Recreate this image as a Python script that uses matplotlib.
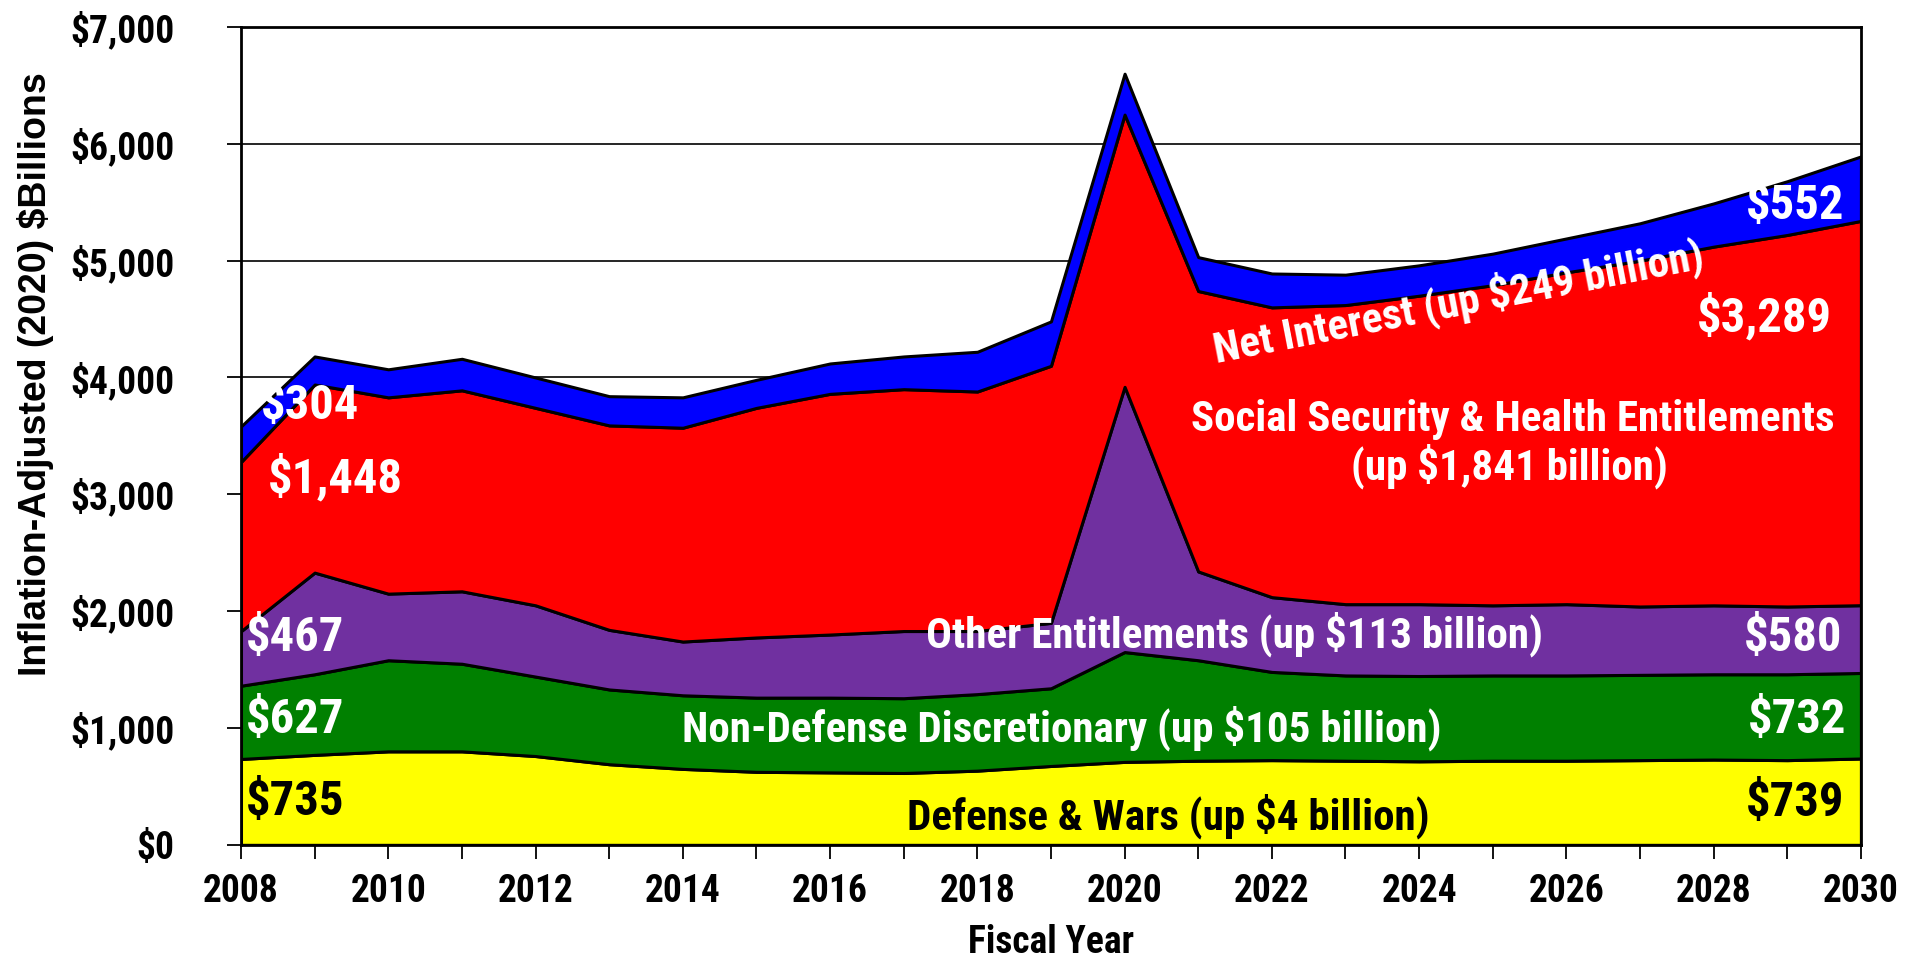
import matplotlib
matplotlib.use("Agg")
import matplotlib.pyplot as plt

years = list(range(2008, 2031))

# $Billions, inflation adjusted to 2020
defense = [735, 770, 800, 800, 760, 690, 650, 625, 620, 615, 635, 675,
           710, 720, 725, 720, 715, 720, 720, 725, 730, 725, 739]
nondefense = [627, 690, 780, 750, 680, 640, 630, 635, 640, 640, 655, 665,
              940, 860, 755, 730, 730, 730, 730, 730, 730, 735, 732]
other_ent = [467, 870, 570, 620, 610, 510, 460, 515, 540, 575, 540, 560,
             2270, 760, 640, 610, 615, 600, 610, 585, 590, 580, 580]
ss_health = [1448, 1610, 1680, 1720, 1690, 1750, 1830, 1965, 2060, 2070, 2050, 2200,
             2330, 2400, 2480, 2560, 2640, 2740, 2840, 2960, 3070, 3180, 3289]
net_interest = [304, 240, 240, 270, 260, 250, 260, 240, 260, 280, 340, 380,
                350, 290, 290, 260, 260, 270, 290, 320, 370, 460, 552]

series = [defense, nondefense, other_ent, ss_health, net_interest]
colors = ["#FFFF00", "#008000", "#7030A0", "#FF0000", "#0000FF"]

narrow = ["Roboto Condensed", "DejaVu Sans"]
plt.rcParams["font.family"] = narrow
plt.rcParams["font.weight"] = "bold"

fig = plt.figure(figsize=(19.31, 9.63), dpi=100)
ax = fig.add_axes([0.1248, 0.1227, 0.8389, 0.8493])

ax.set_axisbelow(True)
ax.yaxis.grid(True, color="black", linewidth=1.2)
ax.stackplot(years, *series, colors=colors, edgecolor="black", linewidth=2.2, zorder=2)

ax.set_xlim(2008, 2030)
ax.set_ylim(0, 7000)
ax.set_xticks(range(2008, 2031, 2))
ax.set_xticks(range(2008, 2031), minor=True)
ax.set_yticks(range(0, 7001, 1000))
ax.set_yticklabels([f"${v:,}" for v in range(0, 7001, 1000)])
ax.tick_params(axis="both", which="both", direction="out", length=10, width=1.3,
               labelsize=27, colors="black")
ax.tick_params(axis="x", pad=10)
ax.tick_params(axis="y", pad=38)
for lbl in ax.get_xticklabels() + ax.get_yticklabels():
    lbl.set_fontweight("bold")
for sp in ax.spines.values():
    sp.set_linewidth(2)
    sp.set_zorder(5)

ax.set_xlabel("Fiscal Year", fontsize=27, fontweight="bold", labelpad=10)
ax.set_ylabel("Inflation-Adjusted (2020) $Billions", fontsize=27, fontweight="bold",
              family=["Liberation Sans", "DejaVu Sans"])
ax.yaxis.set_label_coords(-0.1156, 0.575)

big = dict(fontsize=35, fontweight="bold", va="center", zorder=6)
mid = dict(fontsize=31, fontweight="bold", va="center", ha="center", zorder=6)

# starting values
ax.text(2008.07, 370, "$735", color="black", ha="left", **big)
ax.text(2008.07, 1065, "$627", color="white", ha="left", **big)
ax.text(2008.07, 1771, "$467", color="white", ha="left", **big)
ax.text(2008.37, 3141, "$1,448", color="white", ha="left", **big)
ax.text(2008.27, 3753, "$304", color="white", ha="left", **big)

# ending values
ax.text(2029.78, 358, "$739", color="black", ha="right", **big)
ax.text(2029.8, 1065, "$732", color="white", ha="right", **big)
ax.text(2029.75, 1771, "$580", color="white", ha="right", **big)
ax.text(2029.6, 4512, "$3,289", color="white", ha="right", **big)
ax.text(2029.78, 5471, "$552", color="white", ha="right", **big)

# category labels
ax.text(2020.6, 242, "Defense & Wars (up $4 billion)", color="black", **mid)
ax.text(2019.14, 1001, "Non-Defense Discretionary (up $105 billion)", color="white", **mid)
ax.text(2021.49, 1803, "Other Entitlements (up $113 billion)", color="white", **mid)
ax.text(2025.27, 3637, "Social Security & Health Entitlements", color="white", **mid)
ax.text(2025.22, 3236, "(up $1,841 billion)", color="white", **mid)
ax.text(2024.53, 4649, "Net Interest (up $249 billion)", color="white",
        rotation=11, rotation_mode="anchor", **mid)

fig.savefig("out.png", dpi=100)
